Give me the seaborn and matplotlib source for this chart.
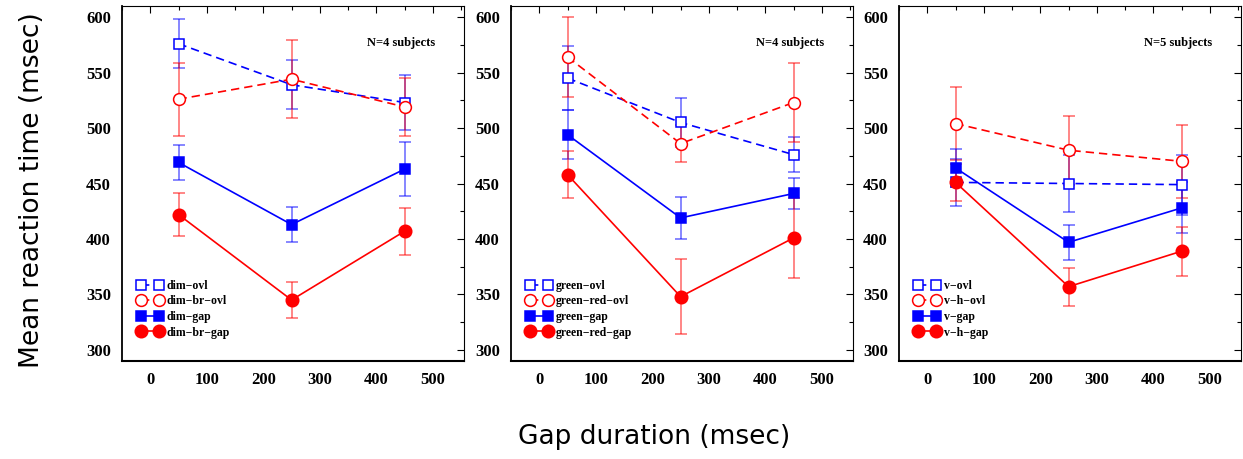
import numpy as np
import pandas as pd
import matplotlib
matplotlib.use("Agg")
import matplotlib.pyplot as plt
import seaborn as sns
from matplotlib.ticker import MultipleLocator

# ---------------- data ----------------
gap = [50, 250, 450]

p1_names = ["dim\u2212ovl", "dim\u2212br\u2212ovl", "dim\u2212gap", "dim\u2212br\u2212gap"]
p1_mean = [[576, 539, 523], [526, 544, 519], [469, 413, 463], [422, 345, 407]]
p1_err = [[22, 22, 25], [33, 35, 26], [16, 16, 24], [19, 16, 21]]

p2_names = ["green\u2212ovl", "green\u2212red\u2212ovl", "green\u2212gap", "green\u2212red\u2212gap"]
p2_mean = [[545, 505, 476], [564, 486, 523], [494, 419, 441], [458, 348, 401]]
p2_err = [[29, 22, 16], [36, 17, 36], [22, 19, 14], [21, 34, 36]]

p3_names = ["v\u2212ovl", "v\u2212h\u2212ovl", "v\u2212gap", "v\u2212h\u2212gap"]
p3_mean = [[451, 450, 449], [504, 480, 470], [464, 397, 428], [451, 357, 389]]
p3_err = [[21, 26, 27], [33, 31, 33], [17, 16, 23], [17, 17, 22]]

subjects = ["N=4 subjects", "N=4 subjects", "N=5 subjects"]
xticks = [0, 100, 200, 300, 400, 500]
yticks = [300, 350, 400, 450, 500, 550, 600]

# ---------------- style ----------------
sns.set_style("white")
plt.rcParams["font.family"] = ["DejaVu Sans"]
plt.rcParams["text.color"] = "black"
plt.rcParams["xtick.color"] = "black"
plt.rcParams["ytick.color"] = "black"

BLUE = "#0000ff"
RED = "#ff0000"
styles = [
    dict(color=BLUE, marker="s", ls=(0, (5, 3)), mfc="white", ms=7),
    dict(color=RED, marker="o", ls=(0, (5, 3)), mfc="white", ms=8.5),
    dict(color=BLUE, marker="s", ls="-", mfc=BLUE, ms=7),
    dict(color=RED, marker="o", ls="-", mfc=RED, ms=9),
]

fig = plt.figure(figsize=(12.43, 4.59), dpi=100)
W, H = 1243, 459
lefts = [122, 511, 899]
pw = 342
bottom_px, top_px = 361, 6
axes = [fig.add_axes([l / W, 1 - bottom_px / H, pw / W, (bottom_px - top_px) / H]) for l in lefts]

panels = [(p1_names, p1_mean, p1_err), (p2_names, p2_mean, p2_err), (p3_names, p3_mean, p3_err)]
tickfont = dict(family="Liberation Serif", weight="bold", size=12)

for ax, (names, means, errs), subj in zip(axes, panels, subjects):
    rows = []
    for n, m in zip(names, means):
        for g, v in zip(gap, m):
            rows.append(dict(series=n, gap=g, rt=v))
    df = pd.DataFrame(rows)
    for i, n in enumerate(names):
        st = styles[i]
        sub = df[df.series == n]
        ax.errorbar(sub.gap, sub.rt, yerr=errs[i], fmt="none", ecolor=st["color"],
                    elinewidth=1.1, capsize=4, capthick=1.1, alpha=0.6, zorder=2)
        sns.lineplot(data=sub, x="gap", y="rt", ax=ax, color=st["color"], marker=st["marker"],
                     linestyle=st["ls"], markersize=st["ms"], markerfacecolor=st["mfc"],
                     markeredgecolor=st["color"], markeredgewidth=1.1, linewidth=1.2,
                     label=n, zorder=3, errorbar=None)
    ax.set_xlim(-50, 555)
    ax.set_ylim(290, 610)
    ax.set_xticks(xticks)
    ax.set_yticks(yticks)
    ax.xaxis.set_minor_locator(MultipleLocator(50))
    ax.yaxis.set_minor_locator(MultipleLocator(25))
    ax.tick_params(which="both", direction="in", top=True, right=True, pad=8)
    ax.tick_params(which="major", length=5, width=0.8)
    ax.tick_params(which="minor", length=3, width=0.8)
    ax.set_xticklabels([str(t) for t in xticks], fontdict=tickfont)
    ax.set_yticklabels([str(t) for t in yticks], fontdict=tickfont)
    ax.set_xlabel("")
    ax.set_ylabel("")
    for s in ax.spines.values():
        s.set_linewidth(0.8)
        s.set_color("black")
    ax.spines["bottom"].set_linewidth(1.5)
    ax.spines["left"].set_linewidth(1.3)
    ax.text(0.815, 0.895, subj, transform=ax.transAxes, ha="center", va="center",
            family="Liberation Serif", weight="bold", fontsize=9)
    ax.legend(loc="lower left", bbox_to_anchor=(0.012, 0.03), frameon=False,
              prop=dict(family="Liberation Serif", weight="bold", size=8.5),
              handlelength=2.1, handletextpad=0.35, labelspacing=0.3, borderaxespad=0.6,
              numpoints=2)

fig.text(0.026, 0.585, "Mean reaction time (msec)", rotation=90, ha="center", va="center", fontsize=19)
fig.text(0.526, 0.048, "Gap duration (msec)", ha="center", va="center", fontsize=19)

fig.savefig("out.png", dpi=100)
